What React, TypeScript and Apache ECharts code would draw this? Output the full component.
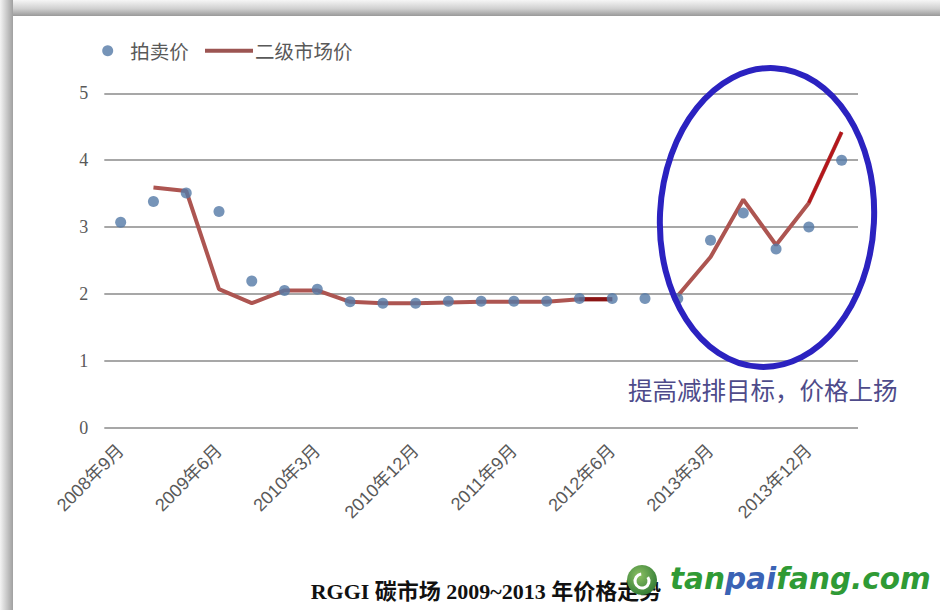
import React, { useEffect, useRef } from "react";
import * as echarts from "echarts";

// Quarterly RGGI auction dates
const categories = [
  "2008年9月", "2008年12月", "2009年3月", "2009年6月", "2009年9月", "2009年12月",
  "2010年3月", "2010年6月", "2010年9月", "2010年12月", "2011年3月", "2011年6月",
  "2011年9月", "2011年12月", "2012年3月", "2012年6月", "2012年9月", "2012年12月",
  "2013年3月", "2013年6月", "2013年9月", "2013年12月", "2014年3月",
];

// Auction clearing price (USD / short ton)
const auctionPrice = [
  3.07, 3.38, 3.51, 3.23, 2.19, 2.05, 2.07, 1.88, 1.86, 1.86, 1.89, 1.89,
  1.89, 1.89, 1.93, 1.93, 1.93, 1.93, 2.8, 3.21, 2.67, 3.0, 4.0,
];

// Secondary market price
const secondaryPrice = [
  null, 3.59, 3.54, 2.07, 1.86, 2.05, 2.05, 1.88, 1.86, 1.86, 1.87, 1.88,
  1.88, 1.88, 1.92, 1.92, null, 1.97, 2.55, 3.41, 2.73, 3.36, 4.42,
];

// Highlighted stretches of the secondary-market line
const darkStretch = secondaryPrice.map((v, i) => (i === 14 || i === 15 ? v : null));
const redStretch = secondaryPrice.map((v, i) => (i === 21 || i === 22 ? v : null));

const yTicks = { min: 0, max: 5, interval: 1 };

const legendNames = ["拍卖价", "二级市场价"];
const noteText = "提高减排目标，价格上扬";
const titleText = "RGGI 碳市场 2009~2013 年价格走势";

const AXIS_GREY = "#595959";

export default function App() {
  const ref = useRef<HTMLDivElement>(null);

  useEffect(() => {
    if (!ref.current) return;
    const chart = echarts.init(ref.current, undefined, { renderer: "svg" });
    chart.setOption({
      animation: false,
      backgroundColor: "#ffffff",
      grid: { left: 104.3, right: 82, top: 93.3, bottom: 182.5, containLabel: false },
      legend: [
        {
          data: [legendNames[0]],
          left: 102.2,
          top: 41,
          padding: 0,
          icon: "circle",
          itemWidth: 11,
          itemHeight: 11,
          textStyle: { fontSize: 19.5, color: AXIS_GREY, fontFamily: "Noto Sans CJK SC", padding: [0, 0, 0, 12] },
        },
        {
          data: [legendNames[1]],
          left: 205,
          top: 41,
          padding: 0,
          icon: "rect",
          itemWidth: 48,
          itemHeight: 4,
          textStyle: { fontSize: 19.5, color: AXIS_GREY, fontFamily: "Noto Sans CJK SC", padding: [0, 0, 0, -3] },
        },
      ],
      xAxis: {
        type: "category",
        data: categories,
        boundaryGap: true,
        axisLine: { show: false },
        axisTick: { show: false },
        axisLabel: {
          interval: 2,
          rotate: 45,
          margin: 20,
          fontSize: 18,
          color: AXIS_GREY,
          fontFamily: "Liberation Sans, Noto Sans CJK SC",
        },
      },
      yAxis: {
        type: "value",
        min: yTicks.min,
        max: yTicks.max,
        interval: yTicks.interval,
        axisLine: { show: false },
        axisTick: { show: false },
        axisLabel: {
          margin: 16,
          fontSize: 18,
          color: AXIS_GREY,
          fontFamily: "Liberation Serif",
        },
        splitLine: { lineStyle: { color: "#8a8a8a", width: 1.5 } },
      },
      series: [
        {
          name: legendNames[0],
          type: "scatter",
          data: auctionPrice,
          symbol: "circle",
          symbolSize: 11,
          itemStyle: { color: "#5479a6" },
          z: 5,
        },
        {
          name: legendNames[1],
          type: "line",
          data: secondaryPrice,
          symbol: "none",
          connectNulls: false,
          lineStyle: { color: "#ad5551", width: 4 },
          itemStyle: { color: "#9c5552" },
          z: 3,
        },
        {
          name: "dark",
          type: "line",
          data: darkStretch,
          symbol: "none",
          lineStyle: { color: "#8a1414", width: 4 },
          z: 4,
        },
        {
          name: "red",
          type: "line",
          data: redStretch,
          symbol: "none",
          lineStyle: { color: "#b5161b", width: 3 },
          z: 4,
        },
      ],
      graphic: [
        // picture frame shadow: top and left edges
        {
          type: "rect",
          shape: { x: 0, y: 0, width: 940, height: 16 },
          style: {
            fill: new echarts.graphic.LinearGradient(0, 0, 0, 1, [
              { offset: 0, color: "#f6f6f6" },
              { offset: 0.55, color: "#cfcfcf" },
              { offset: 1, color: "#999999" },
            ]),
          },
          z: 50,
        },
        {
          type: "rect",
          shape: { x: 0, y: 0, width: 13, height: 610 },
          style: {
            fill: new echarts.graphic.LinearGradient(0, 0, 1, 0, [
              { offset: 0, color: "#f4f4f4" },
              { offset: 0.55, color: "#c6c6c6" },
              { offset: 1, color: "#a0a0a0" },
            ]),
          },
          z: 50,
        },
        // highlight ring around the 2013 rise
        {
          type: "ellipse",
          x: 767,
          y: 217.5,
          rotation: -0.05,
          shape: { cx: 0, cy: 0, rx: 107, ry: 149.5 },
          style: { fill: "none", stroke: "#2b22c0", lineWidth: 6 },
          z: 100,
        },
        {
          type: "text",
          x: 628,
          y: 389,
          style: {
            text: noteText,
            fontSize: 24.5,
            fill: "#4e4b8a",
            fontFamily: "Noto Sans CJK SC",
            textVerticalAlign: "middle",
          },
          z: 100,
        },
        {
          type: "text",
          x: 486,
          y: 591,
          style: {
            text: titleText,
            fontSize: 22,
            fontWeight: "bold",
            fill: "#111111",
            fontFamily: "Liberation Serif, Noto Sans CJK SC",
            textAlign: "center",
            textVerticalAlign: "middle",
          },
          z: 100,
        },
        // site mark
        {
          type: "circle",
          shape: { cx: 642, cy: 580, r: 15 },
          style: {
            fill: new echarts.graphic.RadialGradient(0.4, 0.35, 0.7, [
              { offset: 0, color: "#8cc063" },
              { offset: 1, color: "#2f7a34" },
            ]),
          },
          z: 110,
        },
        {
          type: "arc",
          shape: { cx: 642, cy: 581, r: 7, startAngle: -0.6, endAngle: 4.6 },
          style: { stroke: "#ffffff", lineWidth: 3, fill: "none" },
          z: 111,
        },
        {
          type: "text",
          x: 670,
          y: 579,
          style: {
            text: "{g|tan}{b|pai}{g|fang.com}",
            fontSize: 29.5,
            fontWeight: "bold",
            fontStyle: "italic",
            fontFamily: "DejaVu Sans",
            textVerticalAlign: "middle",
            rich: {
              g: { fill: "#2f9a35", fontSize: 29.5, fontWeight: "bold", fontStyle: "italic", fontFamily: "DejaVu Sans" },
              b: { fill: "#3b63b5", fontSize: 29.5, fontWeight: "bold", fontStyle: "italic", fontFamily: "DejaVu Sans" },
            },
          },
          z: 110,
        },
      ],
    });
    return () => chart.dispose();
  }, []);

  return (
    <div
      ref={ref}
      style={{ position: "absolute", left: 0, top: 0, width: 940, height: 610, background: "#fff" }}
    />
  );
}
